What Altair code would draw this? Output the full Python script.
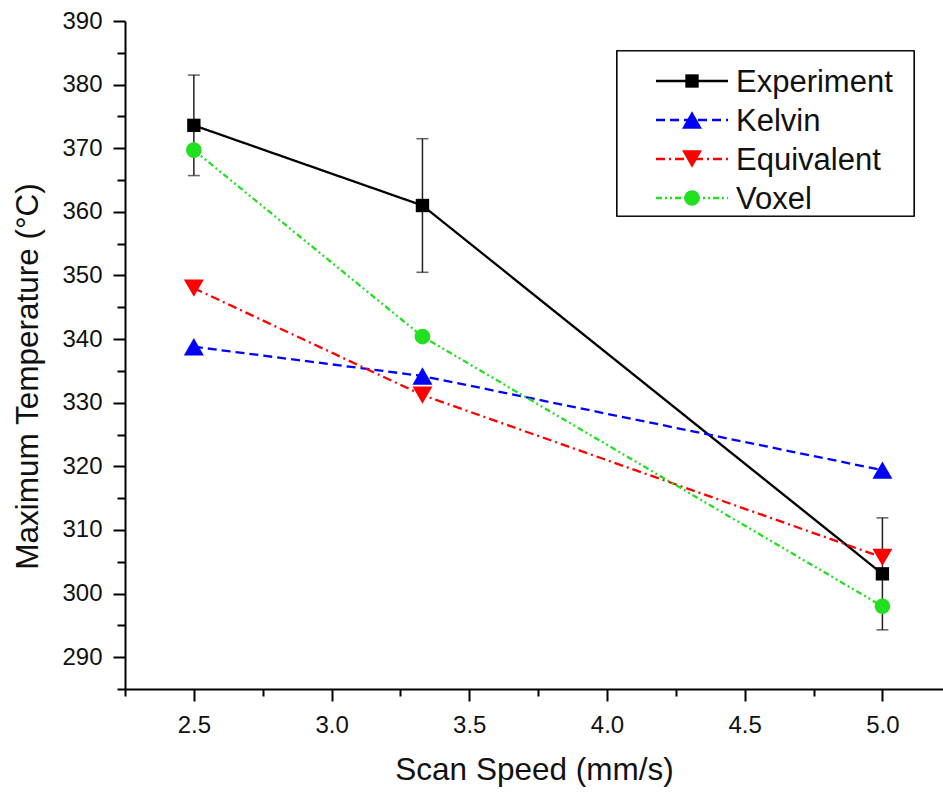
import altair as alt
import pandas as pd

FONT = "Liberation Sans"

# ---- data ----
speeds = [2.5, 3.33, 5.0]
series_names = ["Experiment", "Kelvin", "Equivalent", "Voxel"]
experiment = [373.6, 361.0, 303.1]
experiment_err = [7.9, 10.5, 8.8]
kelvin = [338.8, 334.2, 319.4]
equivalent = [348.0, 331.2, 305.7]
voxel = [369.7, 340.4, 298.0]

y_ticks = list(range(285, 391, 5))
x_ticks = [2.25, 2.5, 2.75, 3.0, 3.25, 3.5, 3.75, 4.0, 4.25, 4.5, 4.75, 5.0]

colors = ["#000000", "#0000ff", "#ff0000", "#20e020"]
shapes = ["square", "triangle-up", "triangle-down", "circle"]
dashes = [[1, 0], [9, 5], [9, 4, 2, 4], [6, 3, 2, 3, 2, 3]]
sizes = [178, 400, 400, 245]

values_by_series = dict(zip(series_names, [experiment, kelvin, equivalent, voxel]))
rows = []
for s in series_names:
    for sp, v in zip(speeds, values_by_series[s]):
        rows.append({"speed": sp, "temp": v, "series": s})
df = pd.DataFrame(rows)

err_df = pd.DataFrame({
    "speed": speeds,
    "lo": [v - e for v, e in zip(experiment, experiment_err)],
    "hi": [v + e for v, e in zip(experiment, experiment_err)],
})
legend_df = pd.DataFrame({"series": series_names})

# ---- scales / axes ----
color_scale = alt.Scale(domain=series_names, range=colors)
dash_scale = alt.Scale(domain=series_names, range=dashes)

x_major_test = "abs(datum.value*2 - round(datum.value*2)) < 0.001"
y_major_test = "datum.value % 10 === 0"

x_axis = alt.Axis(
    values=x_ticks,
    labelExpr=f"{x_major_test} ? format(datum.value, '.1f') : ''",
    tickSize={"condition": {"test": x_major_test, "value": 12}, "value": 7},
    tickWidth=2, tickColor="black", domainWidth=2, domainColor="black",
    labelFont=FONT, labelFontSize=24, labelColor="#111", labelPadding=12,
    titleFont=FONT, titleFontSize=31.5, titleFontWeight="normal", titleColor="#111",
    titleBaseline="alphabetic", titleY=90, grid=False,
)
y_axis = alt.Axis(
    values=y_ticks,
    labelExpr=f"{y_major_test} ? datum.label : ''",
    tickSize={"condition": {"test": y_major_test, "value": 12}, "value": 8},
    tickWidth=2, tickColor="black", domainWidth=2, domainColor="black",
    labelFont=FONT, labelFontSize=24, labelColor="#111", labelPadding=11,
    titleFont=FONT, titleFontSize=31.5, titleFontWeight="normal", titleColor="#111",
    titleBaseline="alphabetic", titleX=-88, titleY=355, grid=False,
)

x_scale = alt.Scale(domain=[2.25, 5.22], nice=False, zero=False)
y_scale = alt.Scale(domain=[285, 390], nice=False, zero=False)
X_TITLE = "Scan Speed (mm/s)"
Y_TITLE = "Maximum Temperature (°C)"

X = alt.X("speed:Q", scale=x_scale, axis=x_axis, title=X_TITLE)
Y = alt.Y("temp:Q", scale=y_scale, axis=y_axis, title=Y_TITLE)

err_rule = alt.Chart(err_df).mark_rule(color="#222222", strokeWidth=1.5).encode(
    x=X,
    y=alt.Y("lo:Q", scale=y_scale, axis=y_axis, title=Y_TITLE),
    y2="hi:Q",
)
err_caps = alt.Chart(err_df).transform_fold(["lo", "hi"], as_=["k", "v"]).mark_tick(
    orient="horizontal", size=12, thickness=1.5, color="#222222"
).encode(
    x=X,
    y=alt.Y("v:Q", scale=y_scale, axis=y_axis, title=Y_TITLE),
)

lines = alt.Chart(df).mark_line(strokeWidth=2.3).encode(
    x=X, y=Y,
    color=alt.Color("series:N", scale=color_scale, legend=None),
    strokeDash=alt.StrokeDash("series:N", scale=dash_scale, legend=None),
)

point_layers = []
for s, c, sh, sz in zip(series_names, colors, shapes, sizes):
    point_layers.append(
        alt.Chart(df).transform_filter(alt.datum.series == s).mark_point(
            filled=True, opacity=1, shape=sh, size=sz, color=c
        ).encode(x=X, y=Y)
    )

main = alt.layer(err_rule, err_caps, lines, *point_layers)

# ---- legend box drawn as marks ----
LY = alt.Y("series:N", scale=alt.Scale(type="point", domain=series_names, range=[60, 177], padding=0), axis=None)

box = alt.Chart(legend_df).mark_rect(fill="white", stroke="black", strokeWidth=1.2).encode(
    x=alt.value(492), x2=alt.value(789), y=alt.value(30), y2=alt.value(195)
)
leg_lines = alt.Chart(legend_df).mark_rule(strokeWidth=2.3).encode(
    x=alt.value(531), x2=alt.value(603), y=LY,
    color=alt.Color("series:N", scale=color_scale, legend=None),
    strokeDash=alt.StrokeDash("series:N", scale=dash_scale, legend=None),
)
leg_point_layers = []
for s, c, sh, sz in zip(series_names, colors, shapes, sizes):
    leg_point_layers.append(
        alt.Chart(legend_df).transform_filter(alt.datum.series == s).mark_point(
            filled=True, opacity=1, shape=sh, size=sz, color=c
        ).encode(x=alt.value(567), y=LY)
    )
leg_text = alt.Chart(legend_df).mark_text(
    align="left", baseline="alphabetic", dy=11, fontSize=31, font=FONT, color="#111"
).encode(x=alt.value(611), y=LY, text="series:N")

legend = alt.layer(box, leg_lines, *leg_point_layers, leg_text)

chart = alt.layer(main, legend).resolve_scale(y="independent").properties(
    width=818, height=668,
    autosize=alt.AutoSizeParams(type="none"),
    padding={"left": 125, "top": 21, "right": 0, "bottom": 104},
    background="white",
).configure_view(stroke=None)

chart.save("out.html", embed_options={"renderer": "svg", "actions": False})
